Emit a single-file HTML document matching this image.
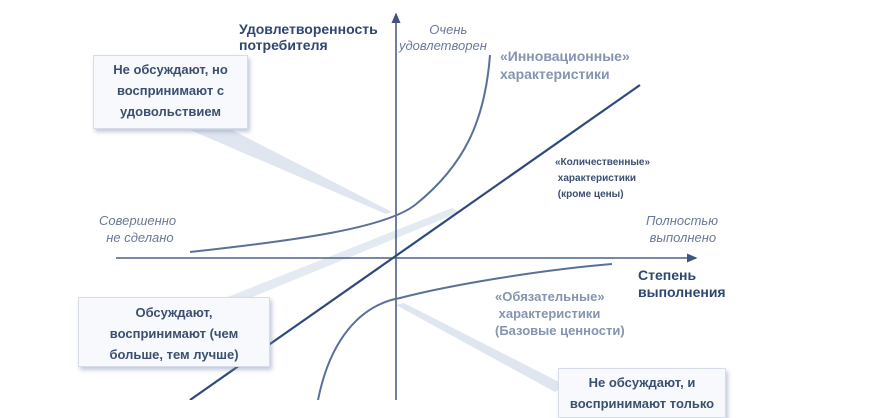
<!DOCTYPE html>
<html><head><meta charset="utf-8"><style>
html,body{margin:0;padding:0;background:#fff;}
body{width:870px;height:400px;overflow:hidden;position:relative;font-family:"Liberation Sans",sans-serif;}
.t{position:absolute;white-space:nowrap;}
.box{position:absolute;background:#f7f9fc;border:1px solid #d6dde8;box-shadow:2px 3px 4px rgba(120,140,170,.45);text-align:center;font-weight:bold;color:#3b4f70;font-size:13px;line-height:21px;}
</style></head><body>
<svg width="870" height="400" style="position:absolute;left:0;top:0">
<defs><marker id="a" markerWidth="8" markerHeight="8" refX="6" refY="4" orient="auto"><path d="M0,1 L7,4 L0,7z" fill="#3f5580"/></marker></defs>
<polygon points="190,130 232,130 392,212 386,214" fill="#dfe6f0"/>
<polygon points="225,298 250,298 460,212 452,208" fill="#e4eaf2"/>
<polygon points="396,305 404,303 565,385 555,392" fill="#dfe6f0"/>
<line x1="396" y1="400" x2="396" y2="14" stroke="#3f5580" stroke-width="1.5" marker-end="url(#a)"/>
<line x1="116" y1="258" x2="696" y2="258" stroke="#4b618a" stroke-width="1.5" marker-end="url(#a)"/>
<line x1="640" y1="85" x2="190" y2="400" stroke="#2f4a7a" stroke-width="2.2"/>
<path d="M190,252 C300,240 385,228 415,205 C465,165 485,120 490,55" fill="none" stroke="#5b7098" stroke-width="2"/>
<path d="M318,400 C330,340 360,305 400,298 C450,285 540,270 612,264" fill="none" stroke="#5b7098" stroke-width="2"/>
</svg>
<div class="t" style="left:239px;top:21px;font-weight:bold;font-size:14px;line-height:16px;color:#2f4770">Удовлетворенность<br>потребителя</div>
<div class="t" style="left:399px;top:22px;font-style:italic;font-size:13px;line-height:16px;color:#6a7a96;text-align:center">&nbsp;&nbsp;&nbsp;Очень<br>удовлетворен</div>
<div class="t" style="left:500px;top:47px;font-weight:bold;font-size:14px;line-height:18px;color:#8594b0">«Инновационные»<br>характеристики</div>
<div class="t" style="left:555px;top:155px;font-weight:bold;font-size:10px;line-height:16px;color:#3b4f70">«Количественные»<br>&nbsp;характеристики<br>&nbsp;(кроме цены)</div>
<div class="t" style="left:99px;top:212px;font-style:italic;font-size:13px;line-height:17px;color:#6a7a96">Совершенно<br>&nbsp;&nbsp;не сделано</div>
<div class="t" style="left:646px;top:212px;font-style:italic;font-size:13px;line-height:17px;color:#6a7a96">Полностью<br>&nbsp;выполнено</div>
<div class="t" style="left:638px;top:267px;font-weight:bold;font-size:14px;line-height:17px;color:#2f4770">Степень<br>выполнения</div>
<div class="t" style="left:495px;top:288px;font-weight:bold;font-size:13px;line-height:17px;color:#8594b0">«Обязательные»<br>&nbsp;характеристики<br>(Базовые ценности)</div>
<div class="box" style="left:93px;top:55px;width:155px;height:74px;padding-top:3px;box-sizing:border-box">Не обсуждают, но<br>воспринимают с<br>удовольствием</div>
<div class="box" style="left:78px;top:297px;width:192px;height:70px;padding-top:4px;box-sizing:border-box">Обсуждают,<br>воспринимают (чем<br>больше, тем лучше)</div>
<div class="box" style="left:558px;top:368px;width:168px;height:50px;padding-top:3px;box-sizing:border-box">Не обсуждают, и<br>воспринимают только</div>
</body></html>
